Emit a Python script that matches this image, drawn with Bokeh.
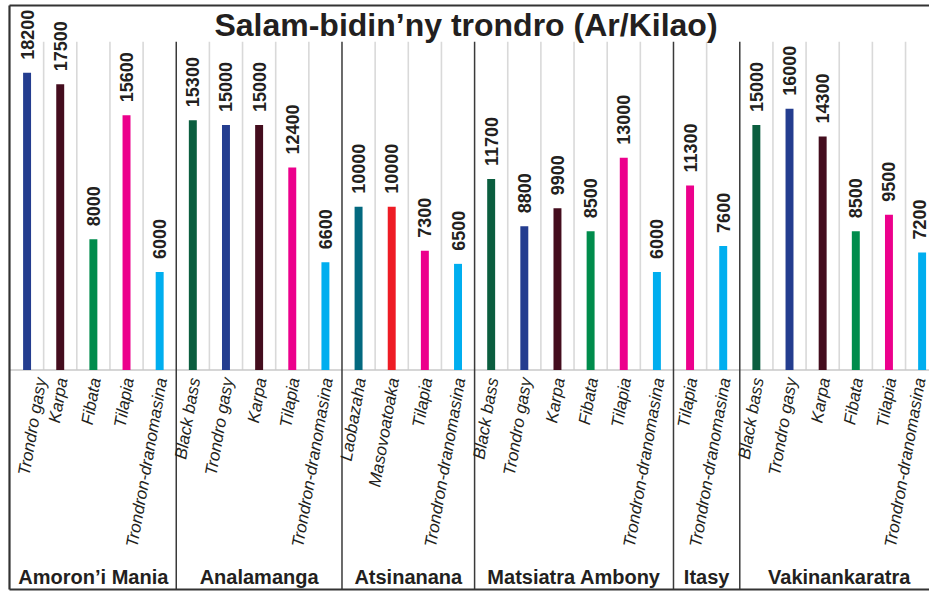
import numpy as np
from bokeh.plotting import figure
from bokeh.models import Range1d, ColumnDataSource
from bokeh.embed import file_html
from bokeh.resources import INLINE
from bokeh.core.properties import value

# ---------------- data ----------------
title_text = "Salam-bidin’ny trondro (Ar/Kilao)"
regions = ["Amoron’i Mania", "Analamanga", "Atsinanana", "Matsiatra Ambony", "Itasy", "Vakinankaratra"]

fish_amoron = ["Trondro gasy", "Karpa", "Fibata", "Tilapia", "Trondron-dranomasina"]
price_amoron = [18200, 17500, 8000, 15600, 6000]

fish_analamanga = ["Black bass", "Trondro gasy", "Karpa", "Tilapia", "Trondron-dranomasina"]
price_analamanga = [15300, 15000, 15000, 12400, 6600]

fish_atsinanana = ["Laobazaha", "Masovoatoaka", "Tilapia", "Trondron-dranomasina"]
price_atsinanana = [10000, 10000, 7300, 6500]

fish_matsiatra = ["Black bass", "Trondro gasy", "Karpa", "Fibata", "Tilapia", "Trondron-dranomasina"]
price_matsiatra = [11700, 8800, 9900, 8500, 13000, 6000]

fish_itasy = ["Tilapia", "Trondron-dranomasina"]
price_itasy = [11300, 7600]

fish_vakinankaratra = ["Black bass", "Trondro gasy", "Karpa", "Fibata", "Tilapia", "Trondron-dranomasina"]
price_vakinankaratra = [15000, 16000, 14300, 8500, 9500, 7200]

fish_colors = {
    "Trondro gasy": "#243d8f",
    "Karpa": "#440d1e",
    "Fibata": "#008c4c",
    "Tilapia": "#ec008c",
    "Trondron-dranomasina": "#00aeef",
    "Black bass": "#0b5e3f",
    "Laobazaha": "#03697f",
    "Masovoatoaka": "#ee1c25",
}

groups = [
    (regions[0], fish_amoron, price_amoron),
    (regions[1], fish_analamanga, price_analamanga),
    (regions[2], fish_atsinanana, price_atsinanana),
    (regions[3], fish_matsiatra, price_matsiatra),
    (regions[4], fish_itasy, price_itasy),
    (regions[5], fish_vakinankaratra, price_vakinankaratra),
]

# ---------------- build table ----------------
fish, prices = [], []
for reg, f, pr in groups:
    fish += f
    prices += pr
n = len(fish)
xs = np.arange(n) + 0.5

# style: keep the outermost labels clear of the page edges
label_dx = [14 if i == 0 else (-2 if i == n - 1 else 2) for i in range(n)]
value_dx = [-3 if i == n - 1 else 0 for i in range(n)]

src = ColumnDataSource(dict(
    x=xs, top=prices, fish=fish, dx=label_dx, vdx=value_dx,
    label=[str(v) for v in prices],
    color=[fish_colors[f] for f in fish],
))

sizes = [len(g[1]) for g in groups]
bounds = np.cumsum(sizes)
starts = np.concatenate([[0], bounds[:-1]])
group_bounds = set(bounds[:-1].tolist())
inner_bounds = [b for b in range(1, n) if b not in group_bounds]

# ---------------- layout (style) ----------------
W, H = 929, 591
Y_TOP_GRID = 20100
Y_MIN, Y_MAX = -13564, 22627
X_MIN, X_MAX = -0.3017, 27.723
BORDER_TOP = 22321
BORDER_BOTTOM = -13442
BORDER_LEFT = -0.0302
TXT = "#231f20"
FONT = value("Liberation Sans")

p = figure(width=W, height=H, x_range=Range1d(X_MIN, X_MAX), y_range=Range1d(Y_MIN, Y_MAX),
           toolbar_location=None, output_backend="svg", min_border=0)
p.axis.visible = False
p.grid.visible = False
p.outline_line_color = None
p.background_fill_color = "white"
p.border_fill_color = "white"

# light category grid lines inside groups
p.segment(x0=inner_bounds, y0=[0] * len(inner_bounds), x1=inner_bounds, y1=[Y_TOP_GRID] * len(inner_bounds),
          line_color="#d9d9d9", line_width=1.6)

# baseline
p.segment(x0=[BORDER_LEFT], y0=[0], x1=[X_MAX], y1=[0], line_color="#c9c9c9", line_width=1.6)

# bars
p.vbar(x="x", top="top", bottom=0, width=0.24, source=src, fill_color="color", line_color=None)

# group separators
gb = sorted(group_bounds)
p.segment(x0=gb, y0=[Y_TOP_GRID] * len(gb), x1=gb, y1=[BORDER_BOTTOM] * len(gb),
          line_color="#3a3a3a", line_width=1.5)

# outer borders (top, left, bottom)
p.segment(x0=[BORDER_LEFT, BORDER_LEFT, BORDER_LEFT], y0=[BORDER_TOP, BORDER_TOP, BORDER_BOTTOM],
          x1=[X_MAX, BORDER_LEFT, X_MAX], y1=[BORDER_TOP, BORDER_BOTTOM, BORDER_BOTTOM],
          line_color="#333333", line_width=2.2)

# value labels
p.text(x="x", y="top", text="label", source=src, angle=np.pi / 2, y_offset=-13, x_offset="vdx",
       text_align="left", text_baseline="middle", text_font=FONT, text_font_size="18px",
       text_font_style="bold", text_color=TXT)

# category labels
p.text(x="x", y=0, text="fish", source=src, angle=np.radians(80), y_offset=8, x_offset="dx",
       text_align="right", text_baseline="middle", text_font=FONT, text_font_size="17px",
       text_font_style="italic", text_color=TXT)

# group labels
centers = (starts + bounds) / 2.0
p.text(x=centers.tolist(), y=[0] * len(centers), text=regions, y_offset=207,
       text_align="center", text_baseline="middle", text_font=FONT, text_font_size="20px",
       text_font_style="bold", text_color=TXT)

# title
p.text(x=[13.74], y=[21157], text=[title_text], text_align="center", text_baseline="middle",
       text_font=FONT, text_font_size="32px", text_font_style="bold", text_color=TXT)

open("out.html", "w").write(file_html(p, INLINE))
